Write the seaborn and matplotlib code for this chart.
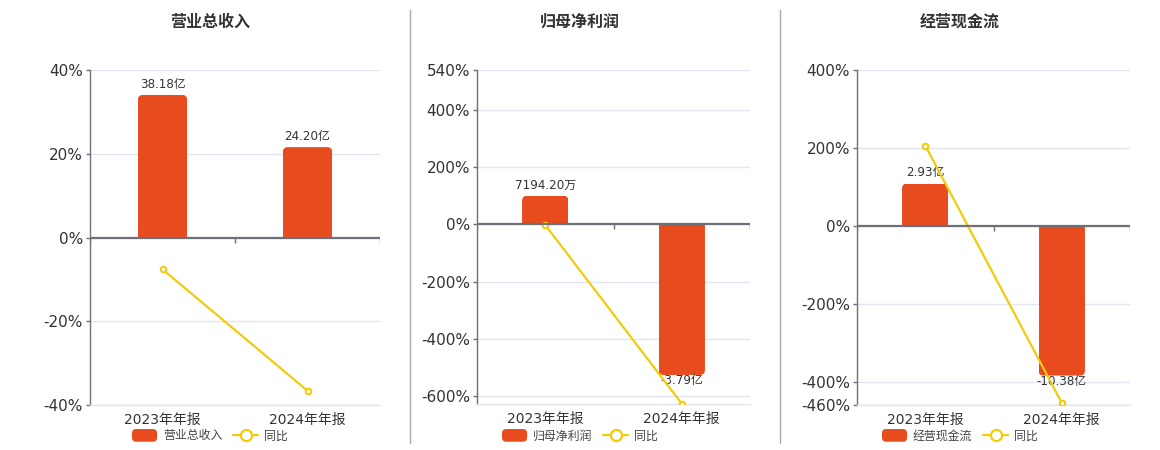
import numpy as np
import pandas as pd
import matplotlib
matplotlib.use("Agg")
import matplotlib.pyplot as plt
from matplotlib.patches import FancyBboxPatch, Patch
from matplotlib.lines import Line2D
from matplotlib.legend_handler import HandlerPatch
import seaborn as sns

# ---------------- data ----------------
categories = ["2023年年报", "2024年年报"]

titles = ["营业总收入", "归母净利润", "经营现金流"]

revenue = [38.18, 24.20]            # 亿
revenue_yoy = [-7.6, -36.6]         # %
revenue_labels = ["38.18亿", "24.20亿"]

netprofit = [0.71942, -3.79]        # 亿
netprofit_yoy = [-2.0, -626.8]      # %
netprofit_labels = ["7194.20万", "-3.79亿"]

cashflow = [2.93, -10.38]           # 亿
cashflow_yoy = [206.0, -454.3]      # %
cashflow_labels = ["2.93亿", "-10.38亿"]

pct_ticks = [
    [-40, -20, 0, 20, 40],
    [-600, -400, -200, 0, 200, 400, 540],
    [-460, -400, -200, 0, 200, 400],
]
pct_limits = [(-40, 40), (-628, 540), (-460, 400)]
bar_per_pct = [1.1214, 0.0072, 0.0270]

# ---------------- style ----------------
sns.set_theme(style="white")
plt.rcParams["font.family"] = ["DejaVu Sans", "Noto Sans CJK SC"]
plt.rcParams["axes.unicode_minus"] = False

BAR_C = "#E84C1E"
LINE_C = "#F2CB0C"
GRID_C = "#E0E6F1"
AXIS_C = "#6E7079"
TEXT_C = "#333333"


class RoundHandler(HandlerPatch):
    def create_artists(self, legend, orig_handle, xdescent, ydescent,
                       width, height, fontsize, trans):
        p = FancyBboxPatch((-xdescent, -ydescent - 1), width, height + 2,
                           boxstyle="round,pad=0,rounding_size=3",
                           facecolor=orig_handle.get_facecolor(),
                           edgecolor="none", transform=trans)
        return [p]


FW, FH = 11.6, 4.5
fig = plt.figure(figsize=(FW, FH), dpi=100)

# axes boxes in pixels: (left, right, top, bottom)
boxes = [(90, 380, 70, 405), (477, 750, 70, 404), (857, 1130, 70, 405)]
centers = [210, 580, 960]

panels = [
    (revenue, revenue_yoy, revenue_labels),
    (netprofit, netprofit_yoy, netprofit_labels),
    (cashflow, cashflow_yoy, cashflow_labels),
]

for i, (vals, yoy, labs) in enumerate(panels):
    l, r, t, b = boxes[i]
    rect = [l / 1160, 1 - b / 450, (r - l) / 1160, (b - t) / 450]
    ax = fig.add_axes(rect)
    ax_bar = ax.twinx()
    ax_line = ax.twinx()

    df = pd.DataFrame({"cat": categories, "val": vals, "yoy": yoy})

    # bars
    sns.barplot(data=df, x="cat", y="val", ax=ax_bar, color=BAR_C,
                saturation=1, width=0.34)
    ymin, ymax = pct_limits[i]
    k = bar_per_pct[i]
    ax_bar.set_ylim(ymin * k, ymax * k)
    ax_bar.set_xlim(-0.5, len(categories) - 0.5)

    # line
    sns.pointplot(data=df, x="cat", y="yoy", ax=ax_line, color=LINE_C,
                  errorbar=None, markers="o", markersize=4,
                  markerfacecolor="white", markeredgewidth=1.5,
                  linewidth=1.6)
    ax_line.set_ylim(ymin, ymax)
    ax_line.set_xlim(-0.5, len(categories) - 0.5)

    # main (visible) axis
    ax.set_ylim(ymin, ymax)
    ax.set_yticks(pct_ticks[i])
    ax.set_yticklabels([f"{v}%" for v in pct_ticks[i]])
    ax.yaxis.grid(True, color=GRID_C, linewidth=1)
    ax.set_axisbelow(True)
    ax.set_xlim(-0.5, len(categories) - 0.5)
    ax.set_xticks(range(len(categories)))
    ax.set_xticklabels(categories)
    for s in ["top", "right"]:
        ax.spines[s].set_visible(False)
    ax.spines["left"].set_color(AXIS_C)
    ax.spines["left"].set_linewidth(1)
    ax.spines["bottom"].set_color(GRID_C)
    ax.spines["bottom"].set_linewidth(1)
    ax.tick_params(axis="y", colors=AXIS_C, labelcolor=TEXT_C, labelsize=11,
                   length=3, width=1, pad=2, left=True)
    ax.tick_params(axis="x", labelcolor=TEXT_C, labelsize=10, length=0, pad=6)
    ax.set_xlabel("")
    ax.set_ylabel("")

    # rounded bars (clipped to original bar so only the outer corners round)
    W_px = r - l
    H_px = b - t
    rx = 5.0 * (len(categories)) / W_px
    ylo, yhi = ax_bar.get_ylim()
    ry = 5.0 * (yhi - ylo) / H_px
    orig = list(ax_bar.patches)
    for p in orig:
        x0, w = p.get_x(), p.get_width()
        y0, h = p.get_y(), p.get_height()
        lo, hi = min(y0, y0 + h), max(y0, y0 + h)
        if lo >= 0:
            blo, bhi = lo - 2 * ry, hi
        else:
            blo, bhi = lo, hi + 2 * ry
        fb = FancyBboxPatch((x0, blo), w, bhi - blo,
                            boxstyle=f"round,pad=0,rounding_size={rx}",
                            mutation_aspect=ry / rx,
                            facecolor=BAR_C, edgecolor="none",
                            transform=ax_bar.transData, zorder=2)
        ax_bar.add_patch(fb)
        fb.set_clip_path(p)
        p.set_visible(False)

    # value labels
    for j, p in enumerate(orig):
        xc = p.get_x() + p.get_width() / 2
        v = vals[j]
        if v >= 0:
            ax_bar.annotate(labs[j], (xc, v), xytext=(0, 3), textcoords="offset points",
                            ha="center", va="bottom", fontsize=8.6, color=TEXT_C)
        else:
            ax_bar.annotate(labs[j], (xc, v), xytext=(0, 0.5), textcoords="offset points",
                            ha="center", va="top", fontsize=8.6, color=TEXT_C)

    # zero axis line with category boundary ticks
    ax_line.axhline(0, color=AXIS_C, linewidth=1.6, zorder=1)
    bounds = np.arange(len(categories) + 1) - 0.5
    tick_len = 5 * (ymax - ymin) / H_px
    ax_line.vlines(bounds, -tick_len, 0, color=AXIS_C, linewidth=1, zorder=1)
    for ln in ax_line.lines:
        ln.set_zorder(5)

    ax_bar.axis("off")
    ax_line.axis("off")

    # title
    fig.text(centers[i] / 1160, 1 - 22 / 450, titles[i], ha="center", va="center",
             fontsize=11.5, fontweight="bold", color=TEXT_C,
             family=["Noto Sans CJK SC", "DejaVu Sans"])

    # legend
    bar_handle = Patch(facecolor=BAR_C, edgecolor="none")
    handles = [
        bar_handle,
        Line2D([0], [0], color=LINE_C, linewidth=1.6, marker="o", markersize=8,
               markerfacecolor="white", markeredgewidth=1.6),
    ]
    fig.legend(handles, [titles[i], "同比"], loc="center",
               bbox_to_anchor=(centers[i] / 1160, 1 - 436 / 450), ncol=2,
               frameon=False, handlelength=2.1, handleheight=0.9,
               handletextpad=0.5, columnspacing=0.9, labelcolor="#444444",
               handler_map={Patch: RoundHandler()},
               prop={"family": ["Noto Sans CJK SC", "DejaVu Sans"], "size": 8.6})

# separators
for xs in [410, 780]:
    fig.add_artist(Line2D([xs / 1160, xs / 1160], [1 - 10 / 450, 1 - 443 / 450],
                          color="#AAAAAA", linewidth=1))

fig.savefig("out.png", dpi=100)
